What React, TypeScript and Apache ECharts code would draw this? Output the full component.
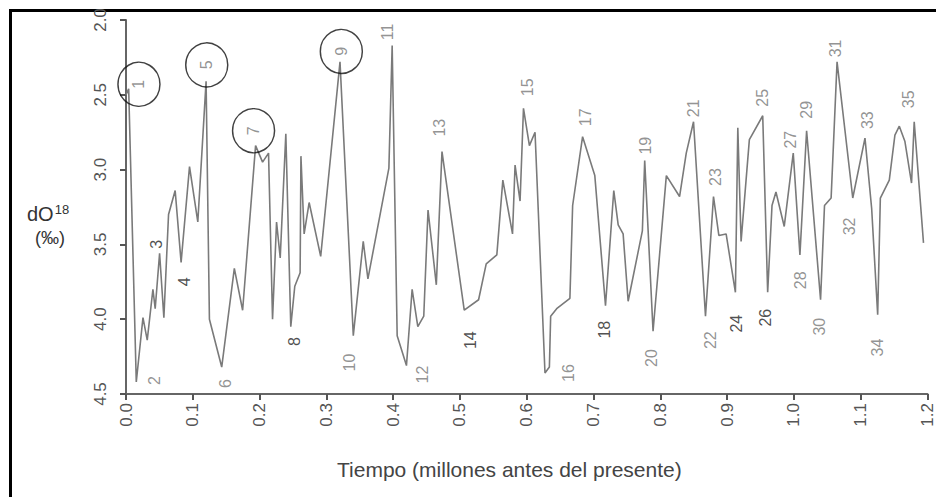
import React, { useEffect, useRef } from "react";
import * as echarts from "echarts";

// Age (millions of years before present) and δ18O (‰)
const ages = [
  0.0, 0.004, 0.0154, 0.0254, 0.0318, 0.0403, 0.0437, 0.0503, 0.0567, 0.0637,
  0.0736, 0.0825, 0.0951, 0.1075, 0.1199, 0.1249, 0.1433, 0.1622, 0.1746, 0.194,
  0.2045, 0.2134, 0.2194, 0.2254, 0.2309, 0.2393, 0.2467, 0.2527, 0.2607, 0.2619,
  0.2667, 0.2742, 0.2915, 0.3204, 0.3403, 0.3552, 0.3622, 0.3936, 0.3985, 0.406,
  0.4199, 0.4284, 0.4369, 0.4458, 0.4522, 0.4646, 0.4731, 0.5064, 0.5279, 0.5393,
  0.5552, 0.5642, 0.5787, 0.5825, 0.59, 0.5951, 0.604, 0.6124, 0.6273, 0.6339,
  0.6358, 0.6448, 0.6646, 0.6687, 0.6836, 0.7019, 0.7179, 0.7303, 0.7369, 0.7443,
  0.7518, 0.7731, 0.7766, 0.7891, 0.809, 0.8288, 0.8388, 0.8497, 0.8676, 0.8796,
  0.8876, 0.8985, 0.9124, 0.916, 0.9209, 0.9333, 0.9533, 0.9607, 0.9672, 0.9731,
  0.9855, 0.999, 1.009, 1.019, 1.0399, 1.0458, 1.0557, 1.0646, 1.0881, 1.1064,
  1.1164, 1.1254, 1.1294, 1.1428, 1.1512, 1.1578, 1.1661, 1.1761, 1.1801, 1.194,
];
const d18O = [
  2.5, 2.46, 4.42, 3.99, 4.14, 3.8, 3.93, 3.56, 3.99, 3.3,
  3.14, 3.62, 2.98, 3.35, 2.41, 4.0, 4.32, 3.66, 3.94, 2.84,
  2.95, 2.89, 4.0, 3.35, 3.59, 2.76, 4.05, 3.78, 3.69, 2.91,
  3.43, 3.22, 3.58, 2.28, 4.11, 3.48, 3.73, 2.99, 2.17, 4.11,
  4.31, 3.8, 4.05, 3.98, 3.27, 3.77, 2.88, 3.94, 3.87, 3.63,
  3.57, 3.07, 3.43, 2.97, 3.21, 2.59, 2.84, 2.75, 4.36, 4.32,
  3.98, 3.93, 3.86, 3.24, 2.78, 3.04, 3.91, 3.14, 3.37, 3.43,
  3.88, 3.41, 2.94, 4.08, 3.04, 3.18, 2.89, 2.68, 3.98, 3.18,
  3.44, 3.43, 3.82, 2.72, 3.48, 2.8, 2.64, 3.82, 3.24, 3.15,
  3.38, 2.89, 3.57, 2.74, 3.87, 3.24, 3.19, 2.28, 3.19, 2.79,
  3.26, 3.97, 3.19, 3.07, 2.77, 2.71, 2.81, 3.09, 2.68, 3.49,
];

// Marine isotope stage labels (position in data coordinates)
const stageNumbers = [
  1, 2, 3, 4, 5, 6, 7, 8, 9, 10, 11, 12, 13, 14, 15, 16, 17, 18,
  19, 20, 21, 22, 23, 24, 25, 26, 27, 28, 29, 30, 31, 32, 33, 34, 35,
];
const stageAges = [
  0.0194, 0.0433, 0.0463, 0.0881, 0.1209, 0.1493, 0.191, 0.2522, 0.3224, 0.3343,
  0.391, 0.4433, 0.4687, 0.5164, 0.6015, 0.6627, 0.6881, 0.7164, 0.7776, 0.7866,
  0.8493, 0.8746, 0.8821, 0.9134, 0.9537, 0.9582, 0.9955, 1.0104, 1.0194, 1.0388,
  1.0627, 1.0836, 1.1104, 1.1254, 1.1716,
];
const stageValues = [
  2.43, 4.41, 3.5, 3.75, 2.3, 4.43, 2.74, 4.15, 2.21, 4.29,
  2.08, 4.37, 2.72, 4.14, 2.45, 4.36, 2.65, 4.07, 2.84, 4.26,
  2.59, 4.14, 3.05, 4.03, 2.52, 3.99, 2.8, 3.74, 2.6, 4.05,
  2.19, 3.38, 2.67, 4.19, 2.53,
];
const darkStages = [3, 4, 8, 14, 18, 24, 26];
const circledStages = [1, 5, 7, 9];

const xTicks = { min: 0, max: 1.2, interval: 0.1 };
const yTicks = { min: 2.0, max: 4.5, interval: 0.5 };

export default function App() {
  const ref = useRef<HTMLDivElement>(null);

  useEffect(() => {
    if (!ref.current) return;
    const chart = echarts.init(ref.current, null, { renderer: "svg" });

    const lineData = ages.map((a, i) => [a, d18O[i]]);
    const labelData = stageNumbers.map((n, i) => ({
      value: [stageAges[i], stageValues[i]],
      name: String(n),
      label: { color: darkStages.includes(n) ? "#222" : "#777" },
    }));
    const circleData = circledStages.map((n) => {
      const i = stageNumbers.indexOf(n);
      return [stageAges[i], stageValues[i]];
    });

    chart.setOption({
      animation: false,
      backgroundColor: "#fff",
      grid: { left: 126, right: 6, top: 20, bottom: 103, containLabel: false },
      xAxis: {
        type: "value",
        min: xTicks.min,
        max: xTicks.max,
        interval: xTicks.interval,
        axisLine: { show: true, lineStyle: { color: "#666", width: 2 } },
        axisTick: { show: true, length: 6, lineStyle: { color: "#555", width: 2 } },
        axisLabel: {
          rotate: 90,
          fontSize: 17,
          color: "#555",
          fontFamily: "Liberation Sans, Arial, sans-serif",
          margin: 9,
          formatter: (v: number) => v.toFixed(1),
        },
        splitLine: { show: false },
      },
      yAxis: {
        type: "value",
        inverse: true,
        min: yTicks.min,
        max: yTicks.max,
        interval: yTicks.interval,
        offset: 3,
        axisLine: { show: true, lineStyle: { color: "#666", width: 2 } },
        axisTick: { show: true, length: 6, lineStyle: { color: "#555", width: 2 } },
        axisLabel: {
          rotate: 90,
          fontSize: 17,
          color: "#555",
          fontFamily: "Liberation Sans, Arial, sans-serif",
          margin: 14,
          formatter: (v: number) => v.toFixed(1),
        },
        splitLine: { show: false },
      },
      series: [
        {
          type: "line",
          data: lineData,
          showSymbol: false,
          symbol: "none",
          lineStyle: { color: "#7a7a7a", width: 1.6 },
          z: 2,
        },
        {
          type: "scatter",
          data: labelData,
          symbolSize: 1,
          itemStyle: { color: "transparent" },
          label: {
            show: true,
            position: "inside",
            rotate: 90,
            fontSize: 16,
            fontFamily: "Liberation Sans, Arial, sans-serif",
            formatter: (p: any) => p.name,
          },
          z: 3,
        },
        {
          type: "scatter",
          data: circleData,
          symbol: "circle",
          symbolSize: [42, 44],
          itemStyle: { color: "transparent", borderColor: "#111", borderWidth: 1.5 },
          z: 4,
        },
      ],
      graphic: [
        {
          type: "rect",
          shape: { x: 10.5, y: 10.5, width: 940, height: 500 },
          style: { fill: "none", stroke: "#000", lineWidth: 3 },
          silent: true,
        },
        {
          type: "text",
          left: 27,
          top: 203,
          style: {
            text: "{a|dO}{b|18}",
            rich: {
              a: { fontSize: 20, fill: "#333", fontFamily: "Liberation Sans, Arial, sans-serif", verticalAlign: "bottom" },
              b: { fontSize: 13, fill: "#333", fontFamily: "Liberation Sans, Arial, sans-serif", verticalAlign: "top", padding: [0, 0, 8, 1] },
            },
          },
        },
        {
          type: "text",
          left: 35,
          top: 229,
          style: {
            text: "(‰)",
            fontSize: 18,
            fill: "#333",
            fontFamily: "Liberation Sans, Arial, sans-serif",
          },
        },
        {
          type: "text",
          left: 337,
          top: 459,
          style: {
            text: "Tiempo (millones antes del presente)",
            fontSize: 21,
            fill: "#444",
            fontFamily: "Liberation Sans, Arial, sans-serif",
          },
        },
      ],
    });

    return () => chart.dispose();
  }, []);

  return (
    <div
      ref={ref}
      style={{ position: "fixed", left: 0, top: 0, width: 936, height: 497 }}
    />
  );
}
